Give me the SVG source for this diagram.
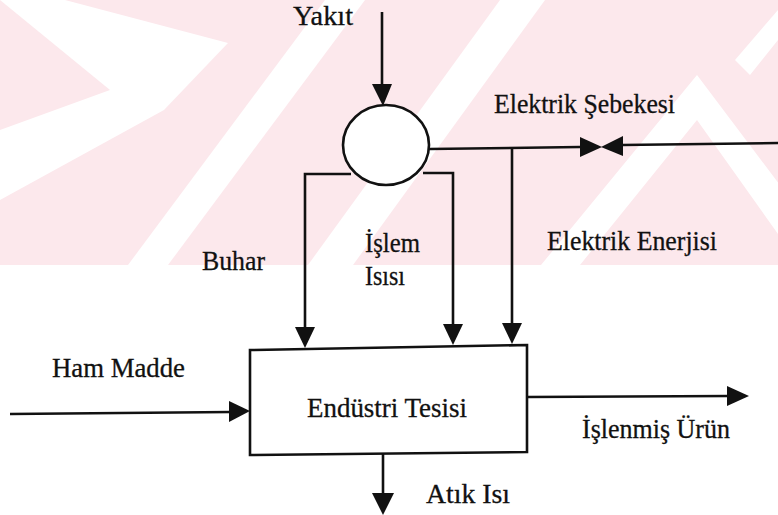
<svg xmlns="http://www.w3.org/2000/svg" width="778" height="515" viewBox="0 0 778 515">
<style>
.ln{fill:none;stroke:#111;stroke-width:2.6;stroke-linejoin:miter}
.ah{fill:#111;stroke:none}
.tx{font-family:"Liberation Serif","Times New Roman",serif;font-size:27px;fill:#111;stroke:#111;stroke-width:0.3}
.wm{fill:#fce8ec}
.wh{fill:#ffffff}
</style>
<rect x="0" y="0" width="778" height="515" fill="#ffffff"/>
<g id="watermark">
<rect class="wm" x="0" y="0" width="778" height="265"/>
<polygon class="wh" points="0,0 65,0 228,43 164,110 0,200 0,130 110,90"/>
<polygon class="wh" points="325,0 365,0 168,265 128,265"/>
<polygon class="wh" points="500,0 545,0 353,265 308,265"/>
<polygon class="wh" points="541,265 580,265 697,120 800,265 840,265 697,75"/>
<polygon class="wh" points="735,60 778,10 778,40 750,75"/>
</g>
<g id="connectors">
<line class="ln" x1="382" y1="12" x2="382" y2="86"/>
<polygon class="ah" points="372,84 392,84 383,106"/>
<polyline class="ln" points="429,149 580,147"/>
<polygon class="ah" points="580,137 580,157 602,147"/>
<polygon class="ah" points="623,136 623,156 601,147"/>
<polyline class="ln" points="622,145 778,143"/>
<polyline class="ln" points="512,148 512,325"/>
<polygon class="ah" points="502,323 522,323 512,344"/>
<polyline class="ln" points="351,174 305,174 305,329"/>
<polygon class="ah" points="295,327 315,327 305,348"/>
<polyline class="ln" points="423,173 453,173 453,326"/>
<polygon class="ah" points="443,324 463,324 453,345"/>
<polyline class="ln" points="10,414 231,412"/>
<polygon class="ah" points="229,401 229,422 250,411"/>
<polyline class="ln" points="527,397 729,396"/>
<polygon class="ah" points="727,386 727,406 749,396"/>
<line class="ln" x1="383" y1="453" x2="383" y2="495"/>
<polygon class="ah" points="372,493 394,493 383,515"/>
</g>
<g id="boiler">
<ellipse class="ln" cx="386" cy="145" rx="43" ry="40" style="fill:#ffffff"/>
</g>
<g id="plant">
<polygon class="ln" points="250,350 527,345 527,452 250,455" style="fill:#ffffff"/>
<text class="tx" x="307" y="417" textLength="160" lengthAdjust="spacingAndGlyphs">Endüstri Tesisi</text>
</g>
<g id="labels">
<text class="tx" x="293" y="25" textLength="60" lengthAdjust="spacingAndGlyphs">Yakıt</text>
<text class="tx" x="494" y="113" textLength="181" lengthAdjust="spacingAndGlyphs">Elektrik Şebekesi</text>
<text class="tx" x="202" y="270" textLength="63" lengthAdjust="spacingAndGlyphs">Buhar</text>
<text class="tx" x="365" y="252" textLength="55" lengthAdjust="spacingAndGlyphs">İşlem</text>
<text class="tx" x="365" y="285" textLength="40" lengthAdjust="spacingAndGlyphs">Isısı</text>
<text class="tx" x="547" y="250" textLength="170" lengthAdjust="spacingAndGlyphs">Elektrik Enerjisi</text>
<text class="tx" x="52" y="377" textLength="133" lengthAdjust="spacingAndGlyphs">Ham Madde</text>
<text class="tx" x="582" y="438" textLength="148" lengthAdjust="spacingAndGlyphs">İşlenmiş Ürün</text>
<text class="tx" x="426" y="503" textLength="84" lengthAdjust="spacingAndGlyphs">Atık Isı</text>
</g>
</svg>
